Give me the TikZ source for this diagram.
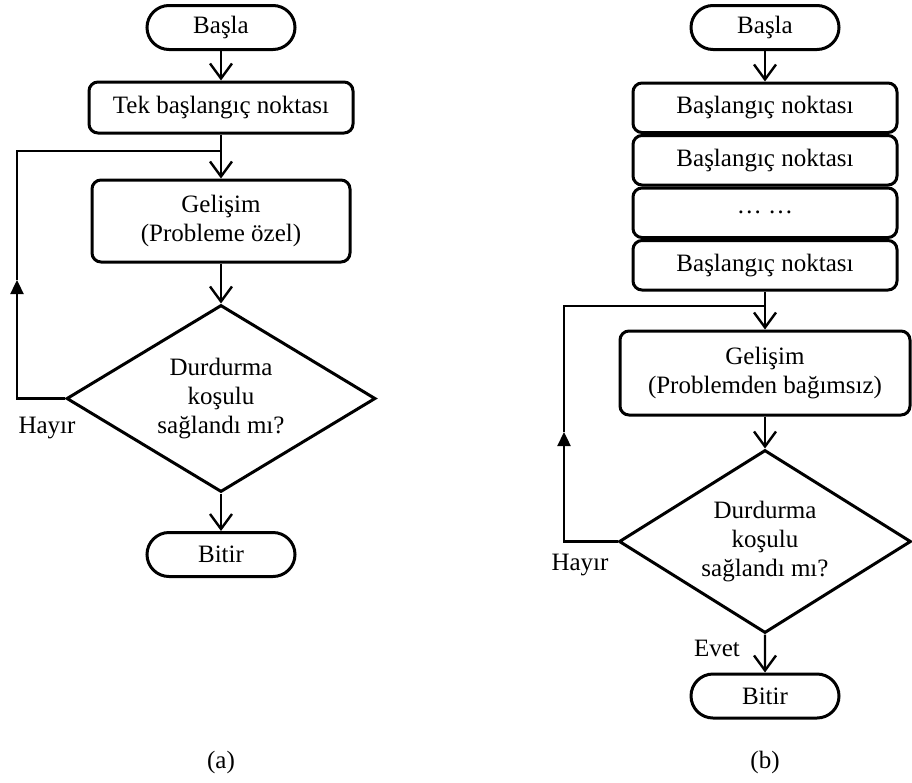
\documentclass[tikz,border=0pt]{standalone}
\usepackage{fontspec}
\setmainfont{Liberation Serif}
\usetikzlibrary{arrows.meta,shapes.misc,shapes.geometric}

\begin{document}
\begin{tikzpicture}[x=1pt,y=-1pt,
  txt/.style={font=\fontsize{25}{29}\selectfont, align=center, inner sep=0pt},
  terminal/.style={txt, rounded rectangle, draw, line width=3pt,
    minimum width=148pt, minimum height=44pt},
  procbox/.style={txt, rectangle, rounded corners=9pt, draw, line width=3pt},
  decision/.style={txt, diamond, draw, line width=3pt, aspect=1.65},
  flow/.style={line width=2.4pt, -{Straight Barb[length=15pt,width=22pt]}},
  plain/.style={line width=2.4pt},
  uparrow/.style={line width=2.4pt, -{Triangle[length=14pt,width=13pt]}},
]
\useasboundingbox (0,0) rectangle (912,782);

% ---------- (a) single starting point ----------
\node[terminal] (la) at (221,27.5) {Başla};
\node[procbox, minimum width=264pt, minimum height=51pt] (lt) at (221,107.5)
  {Tek başlangıç noktası};
\node[procbox, minimum width=258pt, minimum height=82pt] (lg) at (221,221)
  {Gelişim\\(Probleme özel)};
\node[decision, minimum width=309pt, minimum height=187pt] (ld) at (221,398.5)
  {Durdurma\\koşulu\\sağlandı mı?};
\node[terminal] (lb) at (221,554.5) {Bitir};
\node[txt] (lno) at (47,428) {Hayır};
\node[txt] (lcap) at (221,762) {(a)};

\coordinate (lj) at (221,151);
\coordinate (lc1) at (17,398.5);
\coordinate (lm) at (17,280);
\coordinate (lc2) at (17,151);

\draw[flow] (la) -- (lt);
\draw[flow] (lt) -- (lg);
\draw[flow] (lg) -- (ld);
\draw[flow] (ld) -- (lb);
\draw[uparrow] (ld.west) -- (lc1) -- (lm);
\draw[plain] (lm) -- (lc2) -- (lj);

% ---------- (b) several starting points ----------
\node[terminal] (ra) at (765,27.5) {Başla};
\node[procbox, minimum width=264pt, minimum height=49.5pt] (rs1) at (765,107.75)
  {Başlangıç noktası};
\node[procbox, minimum width=264pt, minimum height=49.5pt] (rs2) at (765,160.25)
  {Başlangıç noktası};
\node[procbox, minimum width=264pt, minimum height=49.5pt] (rs3) at (765,212.75)
  {… …};
\node[procbox, minimum width=264pt, minimum height=49.5pt] (rs4) at (765,265.25)
  {Başlangıç noktası};
\node[procbox, minimum width=290pt, minimum height=84pt] (rg) at (765,373)
  {Gelişim\\(Problemden bağımsız)};
\node[decision, minimum width=292pt, minimum height=183pt] (rd) at (765,541.5)
  {Durdurma\\koşulu\\sağlandı mı?};
\node[terminal] (rb) at (765,696) {Bitir};
\node[txt] (rno) at (580,565) {Hayır};
\node[txt] (ryes) at (717,648) {Evet};
\node[txt] (rcap) at (765,762) {(b)};

\coordinate (rj) at (765,306);
\coordinate (rc1) at (564,541.5);
\coordinate (rm) at (564,432);
\coordinate (rc2) at (564,306);

\draw[flow] (ra) -- (rs1);
\draw[flow] (rs4) -- (rg);
\draw[flow] (rg) -- (rd);
\draw[flow] (rd) -- (rb);
\draw[uparrow] (rd.west) -- (rc1) -- (rm);
\draw[plain] (rm) -- (rc2) -- (rj);
\end{tikzpicture}
\end{document}
